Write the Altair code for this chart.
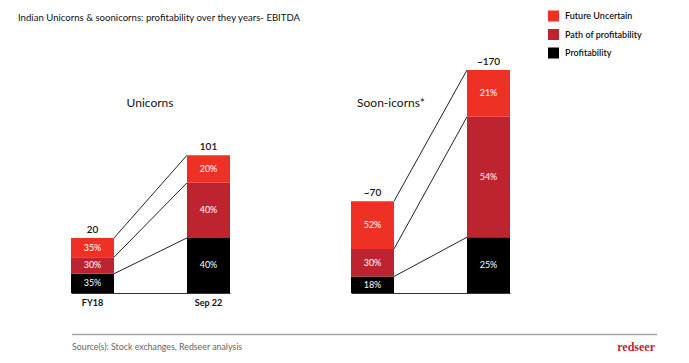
import altair as alt
import pandas as pd

# ---------------- data ----------------
groups = ["Unicorns", "Soon-icorns*"]
periods = ["FY18", "Sep 22"]
total_labels = ["20", "101", "~70", "~170"]          # Unicorns FY18, Unicorns Sep 22, Soon FY18, Soon Sep 22
bar_height_drawn = [42, 105, 70, 170]               # bar heights as drawn in the source (not to scale)
share_profitability = [35, 40, 18, 25]
share_path = [30, 40, 30, 54]
share_future = [35, 20, 52, 21]

legend_order = ["Future Uncertain", "Path of profitability", "Profitability"]
legend_colors = ["#EE3124", "#BE2330", "#000000"]

title_text = "Indian Unicorns & soonicorns: profitability over they years- EBITDA"
source_text = "Source(s): Stock exchanges, Redseer analysis"
brand_text = "redseer"

FONT = "Lato"

# ---------------- tables ----------------
seg_rows, tot_rows, bounds = [], [], {}
i = 0
for g in groups:
    for p in periods:
        h = bar_height_drawn[i]
        shares = [("Profitability", share_profitability[i]),
                  ("Path of profitability", share_path[i]),
                  ("Future Uncertain", share_future[i])]
        base = 0.0
        bl = []
        for cat, s in shares:
            top = base + h * s / 100.0
            seg_rows.append(dict(group=g, period=p, category=cat, y0=base, y1=top,
                                 mid=(base + top) / 2, label=f"{s}%"))
            bl.append(top)
            base = top
        bounds[(g, p)] = bl
        tot_rows.append(dict(group=g, period=p, height=h, label=total_labels[i]))
        i += 1
seg = pd.DataFrame(seg_rows)
tot = pd.DataFrame(tot_rows)
conn_rows = []
for g in groups:
    for k in range(3):
        conn_rows.append(dict(group=g, frm=periods[0], to=periods[1],
                              ya=bounds[(g, periods[0])][k], yb=bounds[(g, periods[1])][k]))
conn = pd.DataFrame(conn_rows)

W, H = 159, 240
yscale = alt.Scale(domain=[0, 183], nice=False, zero=True)
xscale = alt.Scale(domain=periods, paddingInner=0.629, paddingOuter=0)


def xaxis(show):
    return alt.Axis(title=None, labels=show, ticks=False, domain=True, domainColor="#333333",
                    domainWidth=1, labelAngle=0, labelFont=FONT, labelFontSize=9,
                    labelFontWeight="bold", labelColor="#111111", labelPadding=5, grid=False)


def panel(g, show_labels, heading_x):
    s = seg[seg.group == g]
    t = tot[tot.group == g]
    c = conn[conn.group == g]
    ax = xaxis(show_labels)
    bars = alt.Chart(s).mark_bar(strokeWidth=0).encode(
        x=alt.X("period:N", scale=xscale, axis=ax),
        y=alt.Y("y0:Q", scale=yscale, axis=None),
        y2="y1:Q",
        color=alt.Color("category:N",
                        scale=alt.Scale(domain=legend_order, range=legend_colors),
                        legend=alt.Legend(orient="none", legendX=477, legendY=-42.5, title=None,
                                          symbolType="square", symbolSize=121,
                                          symbolStrokeWidth=0, symbolOpacity=1,
                                          labelFont=FONT, labelFontSize=9,
                                          labelFontWeight=600, labelColor="#111111",
                                          labelOffset=6, rowPadding=7.5, padding=0)),
    )
    pct = alt.Chart(s).mark_text(color="white", font=FONT, fontSize=9).encode(
        x=alt.X("period:N", scale=xscale, axis=ax),
        y=alt.Y("mid:Q", scale=yscale, axis=None),
        text="label:N",
    )
    totals = alt.Chart(t).mark_text(baseline="bottom", dy=-3, font=FONT, fontSize=10,
                                    fontWeight=600, color="#111111").encode(
        x=alt.X("period:N", scale=xscale, axis=ax),
        y=alt.Y("height:Q", scale=yscale, axis=None),
        text="label:N",
    )
    lines = alt.Chart(c).mark_rule(color="#222222", strokeWidth=1).encode(
        x=alt.X("frm:N", scale=xscale, axis=ax, bandPosition=1),
        x2=alt.X2("to:N", bandPosition=0),
        y=alt.Y("ya:Q", scale=yscale, axis=None),
        y2="yb:Q",
    )
    head = alt.Chart(pd.DataFrame({"t": [g]})).mark_text(
        font=FONT, fontSize=12, color="#111111", baseline="middle").encode(
        text="t:N", x=alt.value(heading_x), y=alt.value(49.5))
    return [lines, bars, pct, totals, head]


p1_layers = panel(groups[0], True, 79)
p2_layers = panel(groups[1], False, 40)

title = alt.Chart(pd.DataFrame({"t": [title_text]})).mark_text(
    font=FONT, fontSize=9.6, color="#111111", align="left", baseline="middle").encode(
    text="t:N", x=alt.value(-53), y=alt.value(-35.5))
footer_line = alt.Chart(pd.DataFrame({"a": [0]})).mark_rule(color="#a6a6a6", strokeWidth=1.5).encode(
    x=alt.value(1), x2=alt.value(586), y=alt.value(281.5))
source = alt.Chart(pd.DataFrame({"t": [source_text]})).mark_text(
    font=FONT, fontSize=8.8, color="#666666", align="left", baseline="middle").encode(
    text="t:N", x=alt.value(1), y=alt.value(293.5))
brand = alt.Chart(pd.DataFrame({"t": [brand_text]})).mark_text(
    font="Liberation Serif", fontSize=12, fontWeight="bold", color="#C8202F", align="right",
    baseline="middle").encode(text="t:N", x=alt.value(584), y=alt.value(293.5))

p1 = alt.layer(*p1_layers, title, footer_line, source, brand).properties(width=W, height=H)
p2 = alt.layer(*p2_layers).properties(width=W, height=H)

chart = alt.hconcat(p1, p2, spacing=121, bounds="flush").properties(
    padding={"left": 10, "top": 2, "right": 5, "bottom": 5},
    background="white",
).configure_view(stroke=None)

chart.save("out.html", embed_options={"renderer": "svg", "actions": False})
